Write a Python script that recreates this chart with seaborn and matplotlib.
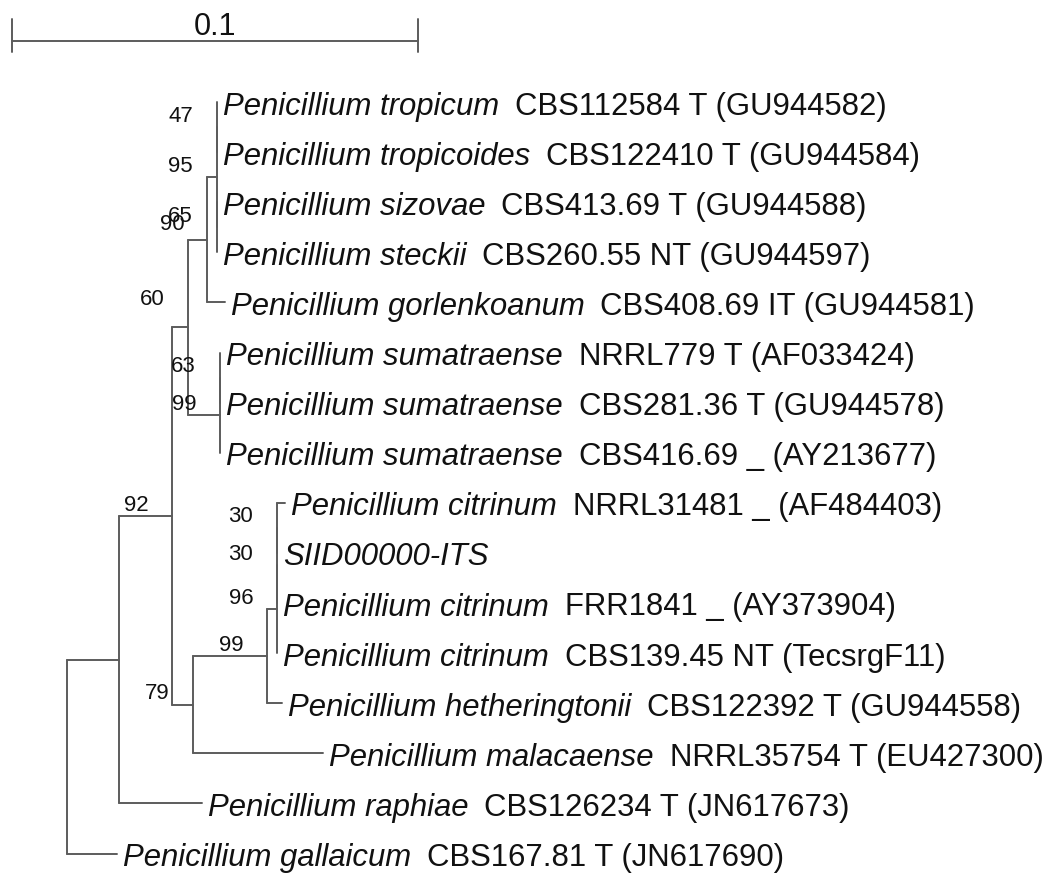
import re
import pandas as pd
import seaborn as sns
import matplotlib.pyplot as plt

# tip labels (italic species part + plain strain part), in tree order
species = [
    "Penicillium tropicum", "Penicillium tropicoides", "Penicillium sizovae",
    "Penicillium steckii", "Penicillium gorlenkoanum", "Penicillium sumatraense",
    "Penicillium sumatraense", "Penicillium sumatraense", "Penicillium citrinum",
    "SIID00000-ITS", "Penicillium citrinum", "Penicillium citrinum",
    "Penicillium hetheringtonii", "Penicillium malacaense", "Penicillium raphiae",
    "Penicillium gallaicum",
]
strains = [
    "CBS112584 T (GU944582)", "CBS122410 T (GU944584)", "CBS413.69 T (GU944588)",
    "CBS260.55 NT (GU944597)", "CBS408.69 IT (GU944581)", "NRRL779 T (AF033424)",
    "CBS281.36 T (GU944578)", "CBS416.69 _ (AY213677)", "NRRL31481 _ (AF484403)",
    "", "FRR1841 _ (AY373904)", "CBS139.45 NT (TecsrgF11)",
    "CBS122392 T (GU944558)", "NRRL35754 T (EU427300)", "CBS126234 T (JN617673)",
    "CBS167.81 T (JN617690)",
]

# topology, branch lengths and bootstrap values (tips are t<index>)
newick = (
    "(((((((t0:0,t1:0)47:0,(t2:0,t3:0)65:0)95:0.0025,t4:0.0044)90:0.0046,"
    "((t5:0,t6:0)63:0,t7:0)99:0.0079)60:0.0039,"
    "(((((t8:0.0020,t9:0)30:0,t10:0)30:0,t11:0)96:0.0025,t12:0.0037)99:0.0182,"
    "t13:0.0320)79:0.0052)92:0.0131,t14:0.0204):0.0128,t15:0.0123);"
)
scale_length = 0.1


def parse_newick(s):
    pos = 0

    def node():
        nonlocal pos
        children = []
        if s[pos] == "(":
            pos += 1
            children.append(node())
            while s[pos] == ",":
                pos += 1
                children.append(node())
            pos += 1
        label = re.match(r"[^:,();]*", s[pos:]).group(0)
        pos += len(label)
        length = 0.0
        if s[pos] == ":":
            m = re.match(r":([0-9.eE+-]+)", s[pos:])
            length = float(m.group(1))
            pos += len(m.group(0))
        return {"label": label, "length": length, "children": children}

    return node()


segments, tips, supports = [], [], []
counter = [0]


def layout(n, x0):
    x = x0 + n["length"]
    if not n["children"]:
        y = counter[0]
        counter[0] += 1
        tips.append((int(n["label"][1:]), x, y))
    else:
        ys = [layout(c, x) for c in n["children"]]
        y = (ys[0] + ys[-1]) / 2
        segments.append(((x, x), (ys[0], ys[-1])))
        if n["label"]:
            supports.append((n["label"], x, y))
    segments.append(((x0, x), (y, y)))
    return y


layout(parse_newick(newick), 0.0)

rows = []
for i, (xs, ys) in enumerate(segments):
    for x, y in zip(xs, ys):
        rows.append({"seg": i, "x": x, "y": y})
df = pd.DataFrame(rows)

sns.set_style("white")
plt.rcParams["font.family"] = ["Liberation Sans", "DejaVu Sans"]

fig = plt.figure(figsize=(10.48, 8.78), dpi=100)
ax = fig.add_axes([0, 0, 1, 1])
line_color = "#5c5c5c"
text_color = "#111111"

sns.lineplot(data=df, x="x", y="y", units="seg", estimator=None, sort=False,
             color=line_color, linewidth=1.4, legend=False, ax=ax)

# pixel-like layout: 4060 px per unit, root at x=67 px, tips 50.1 px apart
ax.set_xlim(-67 / 4060, (1048 - 67) / 4060)
ax.set_ylim((878 - 103) / 50.1, -103 / 50.1)
ax.set_axis_off()

for idx, x, y in tips:
    t1 = ax.annotate(species[idx], xy=(x, y), xytext=(6, 0),
                     textcoords="offset pixels", style="italic",
                     fontsize=22.4, color=text_color, va="center_baseline")
    if strains[idx]:
        ax.annotate(strains[idx], xy=(1, y), xycoords=(t1, "data"),
                    xytext=(16, 0), textcoords="offset pixels",
                    fontsize=22.4, color=text_color, va="center_baseline")

label_offsets = {"60": (-23, 29), "90": (-22, 16)}
for lab, x, y in supports:
    off = label_offsets.get(lab, (-24, 12))
    ax.annotate(lab, xy=(x, y), xytext=off, textcoords="offset pixels",
                ha="right", va="center", fontsize=16, color=text_color)

# scale bar
sx0 = -55 / 4060
sy = (42 - 103) / 50.1
ax.plot([sx0, sx0 + scale_length], [sy, sy], color=line_color, lw=1.4)
for xx in (sx0, sx0 + scale_length):
    ax.plot([xx, xx], [(20 - 103) / 50.1, (53 - 103) / 50.1],
            color=line_color, lw=1.4)
ax.annotate(f"{scale_length:g}", xy=(sx0 + scale_length / 2, sy), xytext=(0, 7),
            textcoords="offset pixels", ha="center", va="baseline",
            fontsize=22, color=text_color)

fig.savefig("out.png", dpi=100)
